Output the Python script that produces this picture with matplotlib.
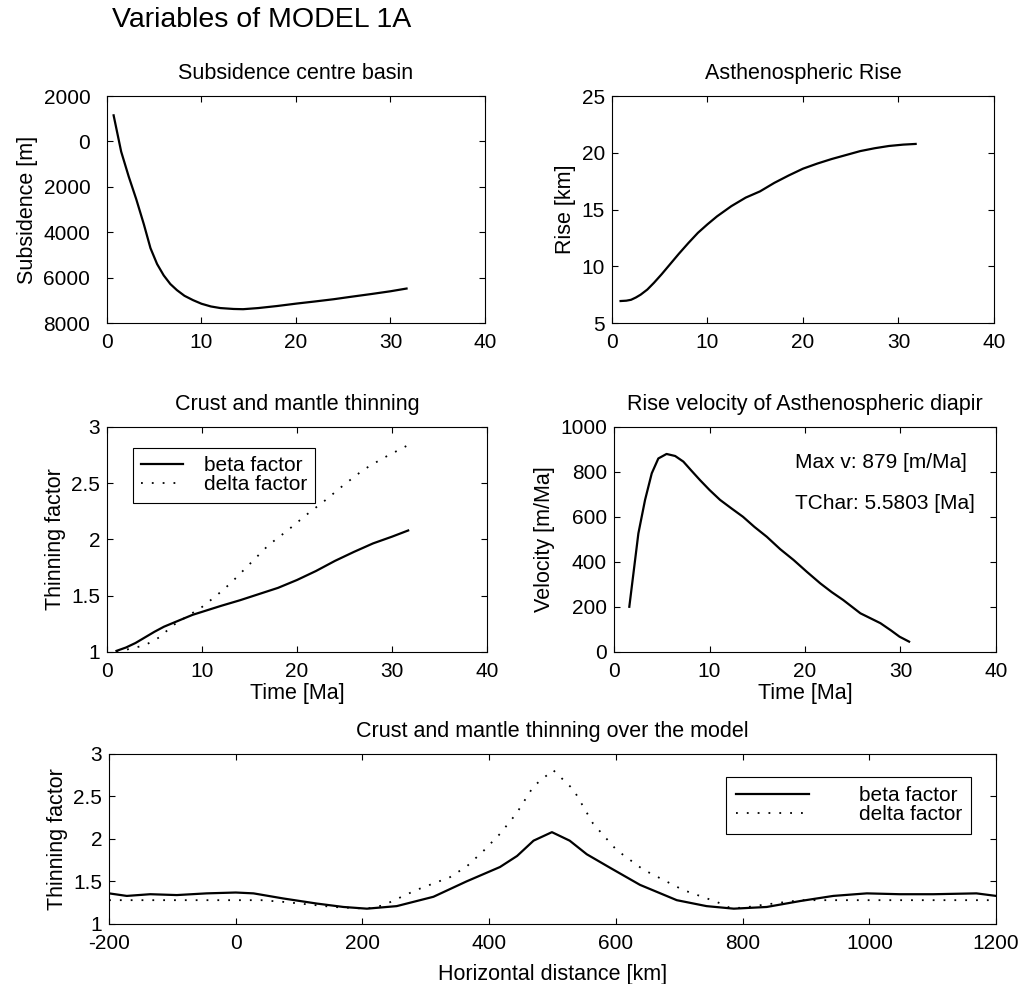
import matplotlib
matplotlib.use("Agg")
import matplotlib.pyplot as plt

plt.rcParams['font.family'] = ['Liberation Sans', 'DejaVu Sans']
plt.rcParams['axes.unicode_minus'] = False
plt.rcParams['xtick.direction'] = 'in'
plt.rcParams['ytick.direction'] = 'in'
plt.rcParams['xtick.top'] = True
plt.rcParams['ytick.right'] = True

# Subsidence centre basin
t_sub = [0.7, 1.5, 2.3, 3.1, 3.9, 4.6, 5.3, 6.0, 6.7, 7.4, 8.2, 9.1, 10.0, 11.0, 12.0,
         13.4, 14.4, 16.0, 18.0, 20.1, 22.0, 24.0, 25.7, 28.0, 30.0, 31.7]
subsidence = [-1150, 450, 1550, 2550, 3650, 4700, 5400, 5900, 6280, 6550, 6800, 6990, 7150,
              7270, 7340, 7380, 7390, 7340, 7250, 7140, 7050, 6950, 6850, 6720, 6600, 6480]
sub_ticks = [-2000, 0, 2000, 4000, 6000, 8000]
sub_ticklabels = ['2000', '0', '2000', '4000', '6000', '8000']

# Asthenospheric rise
t_rise = [0.9, 1.5, 2.0, 2.5, 3.0, 3.7, 4.4, 5.2, 6.0, 7.0, 8.0, 9.0, 10.0, 11.0, 12.5,
          14.0, 15.5, 17.0, 18.5, 20.0, 21.5, 23.0, 24.5, 26.0, 27.5, 29.0, 30.5, 31.8]
rise = [6.94, 6.97, 7.05, 7.25, 7.5, 7.95, 8.55, 9.3, 10.1, 11.1, 12.05, 12.95, 13.7, 14.4,
        15.3, 16.05, 16.6, 17.35, 18.0, 18.6, 19.05, 19.45, 19.8, 20.15, 20.4, 20.6, 20.72, 20.78]

# Crust and mantle thinning vs time
t_beta = [1.0, 2.0, 3.0, 4.0, 5.0, 6.0, 7.0, 8.0, 9.0, 10.5, 12.0, 14.0, 16.0, 18.0, 20.0,
          22.0, 24.0, 26.0, 28.0, 30.0, 31.7]
beta_t = [1.01, 1.04, 1.08, 1.13, 1.18, 1.225, 1.26, 1.295, 1.33, 1.37, 1.41, 1.46, 1.515,
          1.57, 1.64, 1.72, 1.81, 1.89, 1.965, 2.025, 2.08]
t_delta = [1.0, 2.5, 4.0, 5.5, 7.0, 8.5, 10.0, 11.5, 13.0, 15.0, 17.0, 19.0, 21.0, 23.0,
           25.0, 27.0, 29.0, 31.5]
delta_t = [1.0, 1.03, 1.06, 1.13, 1.24, 1.32, 1.40, 1.50, 1.61, 1.78, 1.95, 2.08, 2.22, 2.35,
           2.49, 2.62, 2.72, 2.83]

# Rise velocity
t_vel = [1.6, 2.55, 3.25, 3.95, 4.64, 5.5, 6.4, 7.26, 8.1, 9.0, 10.0, 11.1, 12.3, 13.5, 14.7,
         16.0, 17.4, 18.8, 20.2, 21.6, 22.8, 24.0, 25.8, 27.9, 29.0, 29.9, 30.9]
velocity = [201, 527, 676, 794, 860, 880, 871, 846, 806, 764, 720, 676, 638, 601, 556, 512,
            457, 409, 356, 305, 266, 231, 172, 128, 96, 68, 46]

# Thinning over the model
x_beta = [-200, -172, -135, -93, -46, 0, 28, 75, 128, 170, 207, 254, 312, 364, 417, 444, 470,
          499, 527, 554, 591, 638, 696, 743, 786, 838, 891, 943, 996, 1048, 1101, 1169, 1200]
beta_x = [1.36, 1.33, 1.35, 1.34, 1.36, 1.37, 1.36, 1.30, 1.24, 1.20, 1.18, 1.21, 1.32, 1.50,
          1.67, 1.80, 1.98, 2.08, 1.98, 1.82, 1.66, 1.46, 1.28, 1.21, 1.18, 1.20, 1.27, 1.33,
          1.36, 1.35, 1.35, 1.36, 1.33]
x_delta = [-200, 0, 40, 75, 154, 207, 233, 285, 338, 365, 391, 417, 443, 470, 501, 533, 564,
           601, 643, 706, 759, 780, 800, 827, 891, 1200]
delta_x = [1.28, 1.28, 1.28, 1.26, 1.20, 1.18, 1.22, 1.40, 1.55, 1.68, 1.86, 2.06, 2.30, 2.62,
           2.81, 2.58, 2.18, 1.87, 1.64, 1.40, 1.26, 1.19, 1.19, 1.22, 1.28, 1.28]

TICK = 15
LAB = 15.5
LW = 1.6
DOT = (0, (1, 5))

fig = plt.figure(figsize=(10.21, 9.84), dpi=100)
fig.text(0.110, 0.980, 'Variables of MODEL 1A', fontsize=20.5, va='center', ha='left')


def style(ax, ypad=5):
    ax.tick_params(labelsize=TICK, length=4, width=0.8)
    ax.tick_params(axis='x', pad=7)
    ax.tick_params(axis='y', pad=ypad)
    for s in ax.spines.values():
        s.set_linewidth(0.8)


ax1 = fig.add_axes([0.1048, 0.6717, 0.3702, 0.2307])
ax1.plot(t_sub, subsidence, color='black', lw=LW)
ax1.set_xlim(0, 40)
ax1.set_ylim(8000, -2000)
ax1.set_yticks(sub_ticks)
ax1.set_yticklabels(sub_ticklabels)
ax1.set_xticks([0, 10, 20, 30, 40])
ax1.set_title('Subsidence centre basin', fontsize=LAB, pad=12)
ax1.set_ylabel('Subsidence [m]', fontsize=LAB)
style(ax1, ypad=12)

ax2 = fig.add_axes([0.5994, 0.6717, 0.3741, 0.2307])
ax2.plot(t_rise, rise, color='black', lw=LW)
ax2.set_xlim(0, 40)
ax2.set_ylim(5, 25)
ax2.set_xticks([0, 10, 20, 30, 40])
ax2.set_yticks([5, 10, 15, 20, 25])
ax2.set_title('Asthenospheric Rise', fontsize=LAB, pad=12)
ax2.set_ylabel('Rise [km]', fontsize=LAB)
style(ax2)

ax3 = fig.add_axes([0.1048, 0.3374, 0.3722, 0.2287])
ax3.plot(t_beta, beta_t, color='black', lw=LW, label='beta factor')
ax3.plot(t_delta, delta_t, color='black', lw=1.3, ls=DOT, label='delta factor')
ax3.set_xlim(0, 40)
ax3.set_ylim(1, 3)
ax3.set_xticks([0, 10, 20, 30, 40])
ax3.set_yticks([1, 1.5, 2, 2.5, 3])
ax3.set_yticklabels(['1', '1.5', '2', '2.5', '3'])
ax3.set_title('Crust and mantle thinning', fontsize=LAB, pad=12)
ax3.set_ylabel('Thinning factor', fontsize=LAB)
ax3.set_xlabel('Time [Ma]', fontsize=LAB, labelpad=2)
leg = ax3.legend(loc='upper left', bbox_to_anchor=(0.068, 0.907), borderaxespad=0,
                 fontsize=TICK, fancybox=False, edgecolor='black', framealpha=1,
                 handlelength=2.0, handletextpad=1.0, labelspacing=0.0, borderpad=0.4)
leg.get_frame().set_linewidth(0.8)
style(ax3)

ax4 = fig.add_axes([0.6014, 0.3374, 0.3741, 0.2287])
ax4.plot(t_vel, velocity, color='black', lw=LW)
ax4.set_xlim(0, 40)
ax4.set_ylim(0, 1000)
ax4.set_xticks([0, 10, 20, 30, 40])
ax4.set_yticks([0, 200, 400, 600, 800, 1000])
ax4.set_title('Rise velocity of Asthenospheric diapir', fontsize=LAB, pad=12)
ax4.set_ylabel('Velocity [m/Ma]', fontsize=LAB)
ax4.set_xlabel('Time [Ma]', fontsize=LAB, labelpad=2)
ax4.text(19.0, 840, 'Max v: 879 [m/Ma]', fontsize=TICK, va='center', ha='left')
ax4.text(19.0, 658, 'TChar: 5.5803 [Ma]', fontsize=TICK, va='center', ha='left')
style(ax4)

ax5 = fig.add_axes([0.1068, 0.0610, 0.8688, 0.1728])
ax5.plot(x_beta, beta_x, color='black', lw=LW, label='beta factor')
ax5.plot(x_delta, delta_x, color='black', lw=1.3, ls=DOT, label='delta factor')
ax5.set_xlim(-200, 1200)
ax5.set_ylim(1, 3)
ax5.set_xticks(list(range(-200, 1201, 200)))
ax5.set_yticks([1, 1.5, 2, 2.5, 3])
ax5.set_yticklabels(['1', '1.5', '2', '2.5', '3'])
ax5.set_title('Crust and mantle thinning over the model', fontsize=LAB, pad=12)
ax5.set_ylabel('Thinning factor', fontsize=LAB)
ax5.set_xlabel('Horizontal distance [km]', fontsize=LAB, labelpad=8)
leg2 = ax5.legend(loc='upper right', bbox_to_anchor=(0.972, 0.865), borderaxespad=0,
                  fontsize=TICK, fancybox=False, edgecolor='black', framealpha=1,
                  handlelength=3.5, handletextpad=2.4, labelspacing=0.0, borderpad=0.45)
leg2.get_frame().set_linewidth(0.8)
style(ax5)

fig.savefig('out.png', dpi=100)
